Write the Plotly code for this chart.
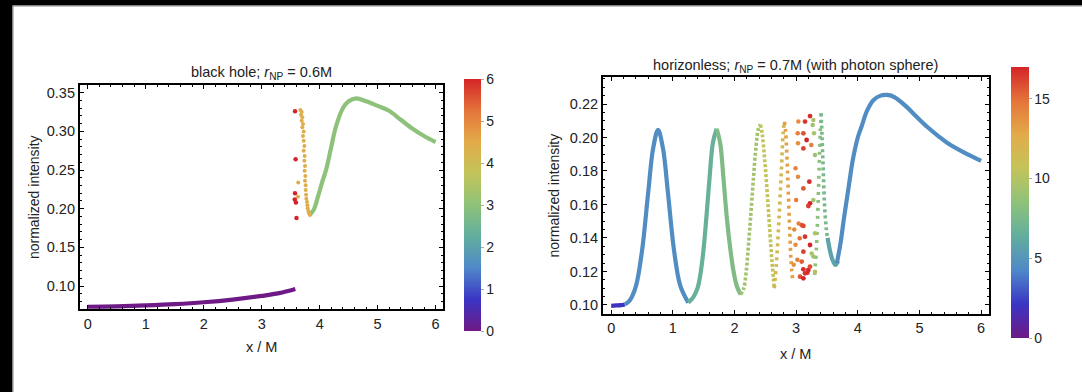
import plotly.graph_objects as go
from plotly.colors import sample_colorscale

W, H = 1082, 392
FONT = "Liberation Sans, Arial, sans-serif"
TXT = "#222222"

RAINBOW = [[0.0, '#6e1985'], [0.125, '#3b35c4'], [0.25, '#4f88c8'], [0.375, '#62ae9e'],
           [0.5, '#8ec27a'], [0.625, '#c3c45a'], [0.75, '#e2ab49'], [0.875, '#e5743a'],
           [1.0, '#d42428']]

# ---------------- left panel: black hole, r_NP = 0.6M ----------------
BH_CMAX = 6
bh_purple_x = [0.0, 0.5, 1.0, 1.5, 2.0, 2.5, 3.0, 3.3, 3.58]
bh_purple_y = [0.0732, 0.0738, 0.0750, 0.0766, 0.0790, 0.0825, 0.0872, 0.0908, 0.0962]
bh_purple_v = 0.0

bh_green_x = [3.83, 3.90, 3.97, 4.05, 4.11, 4.20, 4.28, 4.40, 4.50, 4.63, 4.80, 5.00, 5.19, 5.40, 5.61, 5.80, 6.00]
bh_green_y = [0.192, 0.199, 0.2155, 0.236, 0.250, 0.280, 0.306, 0.330, 0.339, 0.3428, 0.339, 0.333, 0.327, 0.315, 0.303, 0.294, 0.2862]
bh_green_v = 3.0

bh_orange_x = [3.667, 3.690, 3.678, 3.701, 3.690, 3.713, 3.701, 3.724, 3.713, 3.724, 3.736, 3.724,
               3.741, 3.736, 3.747, 3.741, 3.753, 3.747, 3.759, 3.759, 3.765, 3.770, 3.782, 3.788,
               3.793, 3.805, 3.816, 3.830, 3.630, 3.625]
bh_orange_y = [0.3277, 0.3251, 0.3216, 0.3182, 0.3139, 0.3096, 0.3053, 0.2997, 0.2940, 0.2880, 0.2811, 0.2751,
               0.2682, 0.2621, 0.2552, 0.2492, 0.2423, 0.2363, 0.2302, 0.2242, 0.2181, 0.2130, 0.2087, 0.2044,
               0.2005, 0.1970, 0.1940, 0.1918, 0.2340, 0.2155]
bh_orange_v = 4.4

bh_red_x = [3.575, 3.585, 3.575, 3.570, 3.590, 3.600]
bh_red_y = [0.326, 0.264, 0.220, 0.212, 0.208, 0.188]
bh_red_v = 6.0

# ---------------- right panel: horizonless, r_NP = 0.7M ----------------
HL_CMAX = 17
hl_a_x = [0.0, 0.08, 0.16, 0.22]
hl_a_y = [0.0995, 0.0997, 0.0999, 0.1003]
hl_a_v = 2.0

hl_b_x = [0.22, 0.30, 0.40, 0.50, 0.60, 0.68, 0.76, 0.84, 0.92, 1.02, 1.12, 1.25]
hl_b_y = [0.1003, 0.1027, 0.1111, 0.1324, 0.1671, 0.1935, 0.2045, 0.1935, 0.1671, 0.1324, 0.1115, 0.1014]
hl_b_v = 4.5

hl_c1_x = [1.25, 1.33, 1.40, 1.45, 1.50, 1.549, 1.60, 1.65, 1.711]
hl_c1_y = [0.1014, 0.1045, 0.110, 0.119, 0.134, 0.1547, 0.178, 0.197, 0.2052]
hl_c1_v = 6.6
hl_c2_x = [1.711, 1.77, 1.82, 1.873, 1.93, 1.98, 2.04, 2.10]
hl_c2_y = [0.2052, 0.196, 0.176, 0.153, 0.134, 0.121, 0.111, 0.1062]
hl_c2_v = 7.8

hl_d1_x = [2.10, 2.15, 2.19, 2.224, 2.26, 2.305, 2.35, 2.39, 2.42]
hl_d1_y = [0.1062, 0.110, 0.120, 0.1348, 0.152, 0.1746, 0.195, 0.2055, 0.2077]
hl_d1_v = 9.3
hl_d2_x = [2.42, 2.45, 2.49, 2.525, 2.557, 2.59, 2.614, 2.645]
hl_d2_y = [0.2077, 0.202, 0.1866, 0.170, 0.1527, 0.135, 0.1229, 0.110]
hl_d2_v = 10.6

hl_e1_x = [2.645, 2.68, 2.72, 2.76, 2.79, 2.81]
hl_e1_y = [0.110, 0.125, 0.150, 0.180, 0.203, 0.2094]
hl_e1_v = 11.6
hl_e2_x = [2.81, 2.83, 2.86, 2.89, 2.915, 2.945]
hl_e2_y = [0.2094, 0.203, 0.180, 0.150, 0.128, 0.1139]
hl_e2_v = 13.2

hl_orange_x = [3.036, 3.025, 3.030, 2.990, 3.030, 3.000, 3.040, 3.057, 2.990, 3.020, 2.960, 3.246, 2.970]
hl_orange_y = [0.2095, 0.2025, 0.1965, 0.1816, 0.1766, 0.1627, 0.1487, 0.1398, 0.1360, 0.1270, 0.1240, 0.1955, 0.1450]
hl_orange_v = [14.0, 14.5, 13.8, 14.2, 14.0, 14.6, 14.2, 15.0, 13.9, 14.4, 13.8, 14.5, 14.0]

hl_red_x = [3.225, 3.144, 3.117, 3.170, 3.117, 3.214, 3.117, 3.225, 3.198, 3.090, 3.117,
            3.144, 3.225, 3.117, 3.090, 3.117, 3.198, 3.144, 3.063, 3.117, 3.182, 3.225]
hl_red_y = [0.2128, 0.2095, 0.2025, 0.1985, 0.1935, 0.1736, 0.1696, 0.1607, 0.1591, 0.1477, 0.1472,
            0.1408, 0.1358, 0.1318, 0.1259, 0.1213, 0.1209, 0.1189, 0.1169, 0.1159, 0.1193, 0.1229]
hl_red_v = [16.8, 16.5, 15.8, 17.0, 16.2, 16.8, 15.6, 17.0, 16.4, 15.5, 16.0,
            16.6, 17.0, 16.2, 15.6, 16.8, 17.0, 16.5, 15.8, 16.9, 16.7, 15.9]

hl_lgreen_x = [3.279, 3.268, 3.290, 3.306, 3.279, 3.306, 3.279, 3.306, 3.252]
hl_lgreen_y = [0.2104, 0.2075, 0.2025, 0.1896, 0.1627, 0.1428, 0.1289, 0.1199, 0.1308]
hl_lgreen_v = [9.5, 9.2, 9.6, 9.0, 9.4, 9.8, 9.3, 10.0, 9.5]

hl_f1_x = [3.30, 3.33, 3.355, 3.375, 3.39, 3.405]
hl_f1_y = [0.118, 0.135, 0.160, 0.185, 0.203, 0.2144]
hl_f1_v = 8.4
hl_f2_x = [3.405, 3.42, 3.44, 3.46, 3.49, 3.53]
hl_f2_y = [0.2144, 0.200, 0.180, 0.160, 0.145, 0.135]
hl_f2_v = 7.4

hl_g_x = [3.51, 3.56, 3.60, 3.638, 3.68]
hl_g_y = [0.140, 0.1305, 0.126, 0.1239, 0.1262]
hl_g_v = 5.8

hl_h_x = [3.66, 3.72, 3.779, 3.85, 3.919, 4.0, 4.06, 4.15, 4.256, 4.37, 4.48, 4.60, 4.788, 4.95,
          5.124, 5.30, 5.46, 5.742, 6.0]
hl_h_y = [0.1250, 0.1370, 0.1527, 0.170, 0.1866, 0.200, 0.2064, 0.2160, 0.2224, 0.2250, 0.2254, 0.2240,
          0.2184, 0.2125, 0.2064, 0.2010, 0.1965, 0.1906, 0.186]
hl_h_v = 4.5

x_ticks = [0, 1, 2, 3, 4, 5, 6]
bh_y_ticks = [0.10, 0.15, 0.20, 0.25, 0.30, 0.35]
hl_y_ticks = [0.10, 0.12, 0.14, 0.16, 0.18, 0.20, 0.22]
bh_cb_ticks = [0, 1, 2, 3, 4, 5, 6]
hl_cb_ticks = [0, 5, 10, 15]


def col(v, cmax):
    return sample_colorscale(RAINBOW, [min(max(v / cmax, 0), 1)])[0]


fig = go.Figure()


def line(x, y, v, cmax, xa, ya, width=4.2, dash='solid'):
    fig.add_trace(go.Scatter(x=x, y=y, mode='lines', xaxis=xa, yaxis=ya, showlegend=False,
                             hoverinfo='skip',
                             line=dict(color=col(v, cmax), width=width, shape='spline', dash=dash)))


def dots(x, y, v, coloraxis, xa, ya, size=4.5):
    fig.add_trace(go.Scatter(x=x, y=y, mode='markers', xaxis=xa, yaxis=ya, showlegend=False,
                             marker=dict(color=v, coloraxis=coloraxis, size=size, line=dict(width=0))))


# left panel
line(bh_purple_x, bh_purple_y, bh_purple_v, BH_CMAX, 'x', 'y')
line(bh_green_x, bh_green_y, bh_green_v, BH_CMAX, 'x', 'y')
dots(bh_orange_x, bh_orange_y, [bh_orange_v] * len(bh_orange_x), 'coloraxis', 'x', 'y', 4)
dots(bh_red_x, bh_red_y, [bh_red_v] * len(bh_red_x), 'coloraxis', 'x', 'y', 4.5)

# right panel
line(hl_a_x, hl_a_y, hl_a_v, HL_CMAX, 'x2', 'y2')
line(hl_b_x, hl_b_y, hl_b_v, HL_CMAX, 'x2', 'y2')
line(hl_c1_x, hl_c1_y, hl_c1_v, HL_CMAX, 'x2', 'y2')
line(hl_c2_x, hl_c2_y, hl_c2_v, HL_CMAX, 'x2', 'y2')
line(hl_d1_x, hl_d1_y, hl_d1_v, HL_CMAX, 'x2', 'y2', 3.6, '3px,2px')
line(hl_d2_x, hl_d2_y, hl_d2_v, HL_CMAX, 'x2', 'y2', 3.6, '3px,2px')
line(hl_e1_x, hl_e1_y, hl_e1_v, HL_CMAX, 'x2', 'y2', 3.6, '3px,4px')
line(hl_e2_x, hl_e2_y, hl_e2_v, HL_CMAX, 'x2', 'y2', 3.6, '3px,4px')
line(hl_f1_x, hl_f1_y, hl_f1_v, HL_CMAX, 'x2', 'y2', 3.6, '3px,5px')
line(hl_f2_x, hl_f2_y, hl_f2_v, HL_CMAX, 'x2', 'y2', 3.6, '3px,3px')
line(hl_g_x, hl_g_y, hl_g_v, HL_CMAX, 'x2', 'y2')
line(hl_h_x, hl_h_y, hl_h_v, HL_CMAX, 'x2', 'y2')
dots(hl_orange_x, hl_orange_y, hl_orange_v, 'coloraxis2', 'x2', 'y2', 4.5)
dots(hl_lgreen_x, hl_lgreen_y, hl_lgreen_v, 'coloraxis2', 'x2', 'y2', 4.5)
dots(hl_red_x, hl_red_y, hl_red_v, 'coloraxis2', 'x2', 'y2', 4.8)


def px_x(p):
    return p / W


def px_y(p):
    return 1 - p / H


def axis(domain, rng, tickvals, minor_dtick, fmt, anchor):
    return dict(domain=domain, range=rng, tickvals=tickvals, tickformat=fmt, anchor=anchor,
                showline=True, linecolor='black', linewidth=2, mirror='ticks',
                ticks='inside', ticklen=4, tickwidth=1.3, tickcolor='black',
                showgrid=False, zeroline=False,
                tickfont=dict(family=FONT, size=14.5, color=TXT),
                minor=dict(ticks='inside', ticklen=2.2, tickwidth=1, tickcolor='black',
                           dtick=minor_dtick, showgrid=False))


def cbar(x0, x1, y0, y1, tickvals):
    return dict(x=px_x(x0), xanchor='left', xpad=0, ypad=0,
                y=px_y(y0), yanchor='top', len=(y1 - y0) / H, lenmode='fraction',
                thickness=x1 - x0, thicknessmode='pixels', outlinewidth=0,
                tickvals=tickvals, ticks='outside', ticklen=3, tickcolor='#aaaaaa',
                tickfont=dict(family=FONT, size=14, color=TXT))


fig.update_layout(
    width=W, height=H,
    margin=dict(l=0, r=0, t=0, b=0, autoexpand=False),
    paper_bgcolor='white', plot_bgcolor='white',
    xaxis=axis([px_x(79.9), px_x(443.2)], [-0.136, 6.131], x_ticks, 0.2, 'd', 'y'),
    yaxis=axis([px_y(309.3), px_y(85)], [0.0699, 0.36], bh_y_ticks, 0.01, '.2f', 'x'),
    xaxis2=axis([px_x(603), px_x(989)], [-0.133, 6.128], x_ticks, 0.2, 'd', 'y2'),
    yaxis2=axis([px_y(314), px_y(76.7)], [0.0946, 0.2363], hl_y_ticks, 0.005, '.2f', 'x2'),
    coloraxis=dict(cmin=0, cmax=BH_CMAX, colorscale=RAINBOW,
                   colorbar=cbar(464.2, 480.7, 79, 330.7, bh_cb_ticks)),
    coloraxis2=dict(cmin=0, cmax=HL_CMAX, colorscale=RAINBOW,
                    colorbar=cbar(1011.1, 1029.1, 67, 337.7, hl_cb_ticks)),
)

anns = [
    ("black hole; <i>r</i><sub>NP</sub> = 0.6M", 261.5, 72.7, 0, 14.5),
    ("horizonless; <i>r</i><sub>NP</sub> = 0.7M (with photon sphere)", 795.8, 65.7, 0, 14.5),
    ("x / M", 261.7, 346.7, 0, 14.5),
    ("x / M", 795.8, 354.3, 0, 14.5),
    ("normalized intensity", 33.4, 196.7, -90, 14),
    ("normalized intensity", 553.8, 195.7, -90, 14),
]
for text, ax_, ay_, ang, fs in anns:
    fig.add_annotation(text=text, x=px_x(ax_), y=px_y(ay_), xref='paper', yref='paper',
                       xanchor='center', yanchor='middle', showarrow=False, textangle=ang,
                       font=dict(family=FONT, size=fs, color=TXT))

# dark screen border (top and left)
fig.add_shape(type='rect', xref='paper', yref='paper', x0=0, x1=1, y0=px_y(5.5), y1=1,
              fillcolor='black', line=dict(width=0), layer='above')
fig.add_shape(type='rect', xref='paper', yref='paper', x0=0, x1=px_x(12.5), y0=0, y1=1,
              fillcolor='black', line=dict(width=0), layer='above')
fig.add_shape(type='line', xref='paper', yref='paper', x0=px_x(13), x1=px_x(13), y0=0, y1=px_y(5.5),
              line=dict(color='#888888', width=1), layer='above')
fig.add_shape(type='line', xref='paper', yref='paper', x0=px_x(13), x1=1, y0=px_y(6), y1=px_y(6),
              line=dict(color='#888888', width=1), layer='above')

fig.write_html("out.html")
